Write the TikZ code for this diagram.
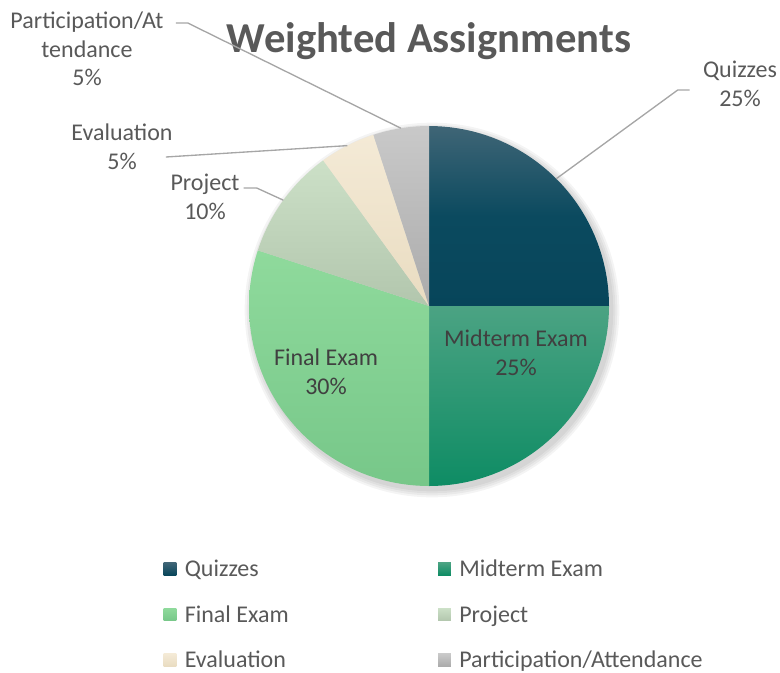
\documentclass[tikz,border=0pt]{standalone}
\usepackage{fontspec}
\setmainfont{Carlito}
\usetikzlibrary{positioning}

\definecolor{txtgray}{HTML}{595959}
\definecolor{lblgray}{HTML}{404040}
\definecolor{leadgray}{HTML}{A6A6A6}
\definecolor{qzTop}{HTML}{3F6576}
\definecolor{qzMid}{HTML}{0B4A5F}
\definecolor{qzBot}{HTML}{07455A}
\definecolor{mtTop}{HTML}{4BA383}
\definecolor{mtBot}{HTML}{0E8C64}
\definecolor{feTop}{HTML}{8FDA9C}
\definecolor{feBot}{HTML}{77C789}
\definecolor{prTop}{HTML}{CCE0C7}
\definecolor{prBot}{HTML}{B2C6AD}
\definecolor{evTop}{HTML}{F4EAD6}
\definecolor{evBot}{HTML}{E9DCC1}
\definecolor{paTop}{HTML}{C9C9C9}
\definecolor{paBot}{HTML}{ABABAB}

\tikzset{
  lbl/.style={text=txtgray, font=\fontsize{18}{21.5}\selectfont, align=center, inner sep=3pt},
  leader/.style={draw=leadgray, line width=1pt},
  key/.style={minimum size=9.4pt, inner sep=0pt},
  keytxt/.style={text=txtgray, font=\fontsize{18}{21.5}\selectfont, inner sep=0pt,
    text height=11.6pt, text depth=0pt}
}

\begin{document}
\begin{tikzpicture}[x=0.75pt, y=-0.75pt]
  \useasboundingbox (0,0) rectangle (780,672);
  \coordinate (c) at (429,306);

  % Schatten
  \foreach \r in {136,137.5,139,140.5}
    \fill[black, opacity=0.045] (432,310) circle[radius=\r pt];

  % Tortenstuecke
  \shade[top color=qzTop, bottom color=qzBot, middle color=qzMid] (c) -- plot[domain=-90:0, samples=40] ({429+180*cos(\x)}, {306+180*sin(\x)}) -- cycle;
  \shade[top color=mtTop, bottom color=mtBot] (c) -- plot[domain=0:90, samples=40] ({429+180*cos(\x)}, {306+180*sin(\x)}) -- cycle;
  \shade[top color=feTop, bottom color=feBot] (c) -- plot[domain=90:198, samples=50] ({429+180*cos(\x)}, {306+180*sin(\x)}) -- cycle;
  \shade[top color=prTop, bottom color=prBot] (c) -- plot[domain=198:234, samples=20] ({429+180*cos(\x)}, {306+180*sin(\x)}) -- cycle;
  \shade[top color=evTop, bottom color=evBot] (c) -- plot[domain=234:252, samples=10] ({429+180*cos(\x)}, {306+180*sin(\x)}) -- cycle;
  \shade[top color=paTop, bottom color=paBot] (c) -- plot[domain=252:270, samples=10] ({429+180*cos(\x)}, {306+180*sin(\x)}) -- cycle;

  % Titel und Beschriftung
  \node[font=\fontsize{32}{36}\selectfont\bfseries, text=txtgray, anchor=base] (title) at (429,52) {Weighted Assignments};
  \node[lbl] (qz-lbl) at (740,84) {Quizzes\\25\%};
  \node[lbl, text=lblgray] (mt-lbl) at (516,353) {Midterm Exam\\25\%};
  \node[lbl, text=lblgray] (fe-lbl) at (326,372) {Final Exam\\30\%};
  \node[lbl] (pr-lbl) at (205,197) {Project\\10\%};
  \node[lbl] (ev-lbl) at (122,147) {Evaluation\\5\%};
  \node[lbl] (pa-lbl) at (87,49) {Participation/At\\tendance\\5\%};

  % Fuehrungslinien
  \coordinate (qz-end) at ([shift={(-45:180)}]c);
  \coordinate (pr-end) at ([shift={(216:180)}]c);
  \coordinate (ev-end) at ([shift={(243:180)}]c);
  \coordinate (pa-end) at ([shift={(261:180)}]c);
  \draw[leader] (qz-lbl.west) ++(-9,6) -- ++(-12,0) -- (qz-end);
  \draw[leader] (pr-lbl.east) ++(0,-9) -- ++(13,0) -- (pr-end);
  \draw[leader] (ev-lbl.east) ++(-11,10) -- (ev-end);
  \draw[leader] (pa-lbl.east) ++(8,-26) -- ++(12,0) -- (pa-end);

  % Legende
  \node[key, top color=qzTop, bottom color=qzBot] (k-qz) at (170,569) {};
  \node[keytxt, right=6pt of k-qz] (t-qz) {Quizzes};
  \node[key, top color=mtTop, bottom color=mtBot] (k-mt) at (444.5,569) {};
  \node[keytxt, right=6pt of k-mt] (t-mt) {Midterm Exam};
  \node[key, top color=feTop, bottom color=feBot] (k-fe) at (170,614.5) {};
  \node[keytxt, right=6pt of k-fe] (t-fe) {Final Exam};
  \node[key, top color=prTop, bottom color=prBot] (k-pr) at (444.5,614.5) {};
  \node[keytxt, right=6pt of k-pr] (t-pr) {Project};
  \node[key, top color=evTop, bottom color=evBot] (k-ev) at (170,660) {};
  \node[keytxt, right=6pt of k-ev] (t-ev) {Evaluation};
  \node[key, top color=paTop, bottom color=paBot] (k-pa) at (444.5,660) {};
  \node[keytxt, right=6pt of k-pa] (t-pa) {Participation/Attendance};
\end{tikzpicture}
\end{document}
